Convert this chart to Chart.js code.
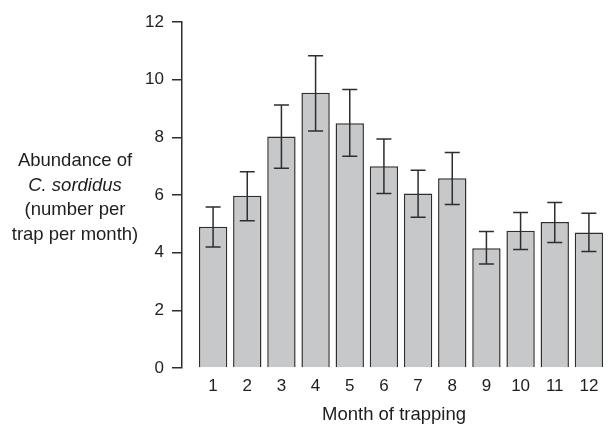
<!DOCTYPE html>
<html>
<head>
<meta charset="utf-8">
<script src="https://cdn.jsdelivr.net/npm/chart.js@4"></script>
<style>
  html, body { margin: 0; padding: 0; background: #fff; }
  #wrap { width: 610px; height: 428px; }
</style>
</head>
<body>
<div id="wrap"><canvas id="chart"></canvas></div>
<script>
// Data
const months = [1, 2, 3, 4, 5, 6, 7, 8, 9, 10, 11, 12];
const abundance = [4.9, 5.97, 8.03, 9.55, 8.49, 7.0, 6.05, 6.58, 4.15, 4.76, 5.06, 4.7];
const errUpper = [5.58, 6.81, 9.12, 10.83, 9.66, 7.94, 6.86, 7.47, 4.73, 5.39, 5.74, 5.37];
const errLower = [4.2, 5.11, 6.93, 8.22, 7.34, 6.05, 5.23, 5.67, 3.61, 4.11, 4.35, 4.04];
const yTicks = [0, 2, 4, 6, 8, 10, 12];
const yTitleLines = ["Abundance of", "C. sordidus", "(number per", "trap per month)"];

const FONT = "'Liberation Sans', Arial, Helvetica, sans-serif";
const INK = "#2e2e2e";

// error bars with caps, positioned through the chart scales
const errorBars = {
  id: "errorBars",
  afterDatasetsDraw(chart) {
    const { ctx, scales: { x, y } } = chart;
    ctx.save();
    ctx.strokeStyle = INK;
    ctx.lineWidth = 1.5;
    months.forEach((m, i) => {
      const px = x.getPixelForValue(m);
      const top = y.getPixelForValue(errUpper[i]);
      const bot = y.getPixelForValue(errLower[i]);
      ctx.beginPath();
      ctx.moveTo(px, top); ctx.lineTo(px, bot);
      ctx.moveTo(px - 7.5, top); ctx.lineTo(px + 7.5, top);
      ctx.moveTo(px - 7.5, bot); ctx.lineTo(px + 7.5, bot);
      ctx.stroke();
    });
    ctx.restore();
  }
};

// horizontal, multi-line y title (second line in italics)
const yTitle = {
  id: "yTitle",
  afterDraw(chart) {
    const { ctx, scales: { y } } = chart;
    const mid = (y.top + y.bottom) / 2 + 3;
    const step = 24.5;
    ctx.save();
    ctx.fillStyle = "#1e1e1e";
    ctx.textAlign = "center";
    ctx.textBaseline = "middle";
    yTitleLines.forEach((line, i) => {
      ctx.font = (i === 1 ? "italic " : "") + "18.5px " + FONT;
      ctx.fillText(line, 75, mid + (i - 1.5) * step);
    });
    ctx.restore();
  }
};

new Chart(document.getElementById("chart"), {
  type: "bar",
  data: {
    datasets: [{
      data: months.map((m, i) => ({ x: m, y: abundance[i] })),
      backgroundColor: "#c7c8ca",
      borderColor: INK,
      borderWidth: 1.5,
      barPercentage: 0.83,
      categoryPercentage: 1
    }]
  },
  options: {
    responsive: true,
    maintainAspectRatio: false,
    animation: false,
    layout: { padding: { top: 22, right: 4, left: 0, bottom: 0 } },
    plugins: { legend: { display: false }, tooltip: { enabled: false } },
    scales: {
      x: {
        type: "linear",
        offset: false,
        min: 0.09,
        max: 12.5,
        afterBuildTicks: (s) => { s.ticks = months.map((v) => ({ value: v })); },
        afterFit: (s) => { s.height = 60; },
        grid: { display: false, drawTicks: false },
        border: { display: false },
        ticks: { padding: 8, color: "#1e1e1e", font: { family: FONT, size: 17 } },
        title: {
          display: true,
          text: "Month of trapping",
          color: "#1e1e1e",
          font: { family: FONT, size: 18.5 },
          padding: { top: 0, bottom: 2 }
        }
      },
      y: {
        min: 0,
        max: 12,
        afterBuildTicks: (s) => { s.ticks = yTicks.map((v) => ({ value: v })); },
        afterFit: (s) => { s.width = 182; },
        grid: { drawOnChartArea: false, tickLength: 10, color: INK, lineWidth: 1.5 },
        border: { color: INK, width: 1.5 },
        ticks: { padding: 8, color: "#1e1e1e", font: { family: FONT, size: 17 } }
      }
    }
  },
  plugins: [errorBars, yTitle]
});
</script>
</body>
</html>
